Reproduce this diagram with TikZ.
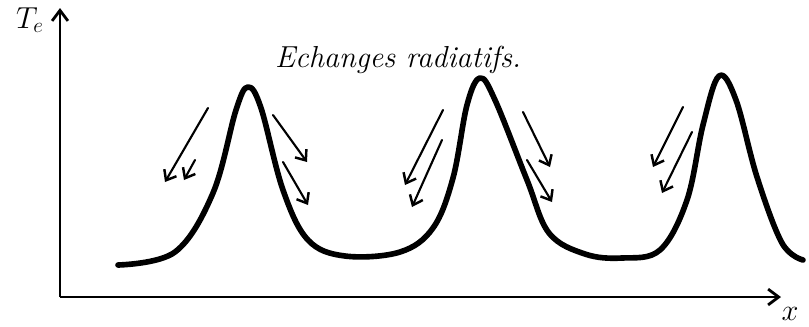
\documentclass[tikz,border=0pt]{standalone}
\usepackage{amsmath,amssymb}
\usepackage{tikz}
\usetikzlibrary{arrows.meta}

\begin{document}
\begin{tikzpicture}[
  x=0.02cm,y=-0.02cm,
  axis/.style={draw=black,line width=1.6pt,-{Straight Barb[length=6pt,width=9pt,line width=1.6pt]}},
  profil/.style={draw=black,line width=3.2pt,line cap=round,line join=round},
  flux/.style={draw=black,line width=1.2pt,line cap=round,-{Straight Barb[length=5pt,width=8pt,line width=1.4pt]}},
  lbl/.style={font=\LARGE},
  txt/.style={font=\LARGE\itshape},
]
\useasboundingbox (0,0) rectangle (809,326);

% axes
\coordinate (O) at (60,297);
\coordinate (ytop) at (60,8);
\coordinate (xend) at (781,297);
\draw[axis] (O) -- (ytop);
\draw[axis] (O) -- (xend);
\node[lbl] (Te) at (30,20) {$T_e$};
\node[lbl] (xl) at (790,314) {$x$};

% titre
\node[txt] (titre) at (398,60) {Echanges radiatifs.};

% profil de temperature
\draw[profil] plot[smooth,tension=0.6] coordinates {
  (118,265) (175,252) (213,193) (236,110) (248,87) (261,108)
  (283,190) (308,240) (345,256) (400,252) (433,228) (453,178)
  (467,105) (480,78) (495,100) (527,180) (549,233) (585,254)
  (622,258) (660,250) (687,200) (703,125) (719,76) (736,100)
  (757,177) (782,243) (803,260)};

% echanges radiatifs (pic 1)
\draw[flux] (208,108) -- (165,182);
\draw[flux] (195,160) -- (184,180);
\draw[flux] (273,115) -- (307,162);
\draw[flux] (283,162) -- (308,205);

% pic 2
\draw[flux] (443,110) -- (405,185);
\draw[flux] (442,140) -- (412,207);
\draw[flux] (523,112) -- (550,167);
\draw[flux] (527,160) -- (552,202);

% pic 3
\draw[flux] (683,107) -- (653,167);
\draw[flux] (692,132) -- (662,193);
\end{tikzpicture}
\end{document}
